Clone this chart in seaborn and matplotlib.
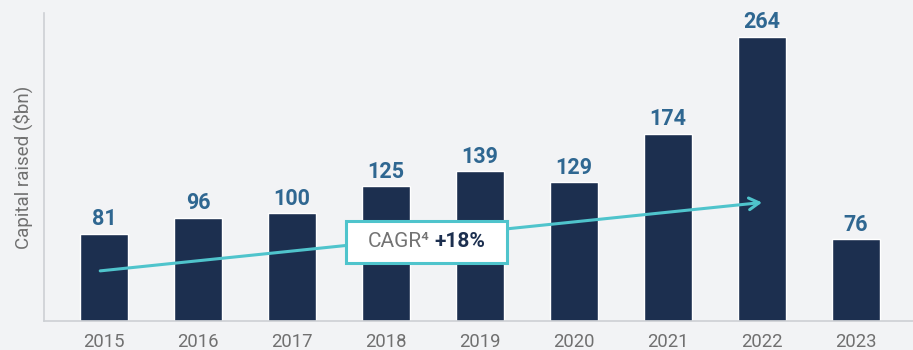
import matplotlib
matplotlib.use("Agg")
import matplotlib.pyplot as plt
import seaborn as sns
import pandas as pd
from matplotlib.offsetbox import TextArea, HPacker, AnnotationBbox, DrawingArea

# Capital raised per year ($bn)
years = ["2015", "2016", "2017", "2018", "2019", "2020", "2021", "2022", "2023"]
capital = [81, 96, 100, 125, 139, 129, 174, 264, 76]
cagr_label = "+18%"

BG = "#F2F3F5"
NAVY = "#1C2F4F"
STEEL = "#2F6791"
TEAL = "#4FC4CC"
GREY = "#707070"
SPINE = "#CDD0D4"

sns.set_theme(style="white")
plt.rcParams["font.family"] = ["Roboto", "DejaVu Sans"]

df = pd.DataFrame({"year": years, "capital": capital})

fig = plt.figure(figsize=(9.13, 3.5), dpi=100, facecolor=BG)
ax = fig.add_axes([0.0482, 0.083, 0.9518, 0.88])
ax.set_facecolor(BG)

sns.barplot(data=df, x="year", y="capital", color=NAVY, width=0.51,
            saturation=1, ax=ax)

for i, v in enumerate(capital):
    ax.annotate(str(v), (i, v), xytext=(0, 2.5), textcoords="offset points",
                ha="center", va="bottom", fontsize=15.5, fontweight="bold",
                color=STEEL)

ax.set_xlim(-0.638, 8.606)
ax.set_ylim(0, 286)
ax.set_yticks([])
ax.set_xlabel("")
ax.set_ylabel("Capital raised ($bn)", fontsize=13.5, color=GREY, labelpad=8)
ax.tick_params(axis="x", length=0, pad=9, labelsize=13.3, labelcolor=GREY)

for side in ("top", "right"):
    ax.spines[side].set_visible(False)
for side in ("left", "bottom"):
    ax.spines[side].set_color(SPINE)
    ax.spines[side].set_linewidth(1.2)

# Growth trend arrow from the first year towards the peak year
start_x, end_x = 0, years.index("2022")
ax.annotate("", xy=(end_x, 110), xytext=(start_x - 0.04, 46.5),
            arrowprops=dict(arrowstyle="->,head_length=0.6,head_width=0.35",
                            color=TEAL, lw=2.2, shrinkA=0, shrinkB=0),
            zorder=4)

# CAGR callout box, with extra side padding
parts = HPacker(children=[
    DrawingArea(3, 1),
    TextArea("CAGR\u2074", textprops=dict(fontsize=15, color="#737373")),
    TextArea(cagr_label, textprops=dict(fontsize=15, color=NAVY,
                                        fontweight="bold")),
    DrawingArea(3, 1),
], align="center", pad=0, sep=4)
box = AnnotationBbox(parts, (3.43, 73.4), xycoords="data", frameon=True,
                     pad=0.75, box_alignment=(0.5, 0.5), zorder=5,
                     bboxprops=dict(facecolor="white", edgecolor=TEAL,
                                    linewidth=2.2, boxstyle="square,pad=0.75"))
ax.add_artist(box)

fig.savefig("out.png", dpi=100, facecolor=BG)
